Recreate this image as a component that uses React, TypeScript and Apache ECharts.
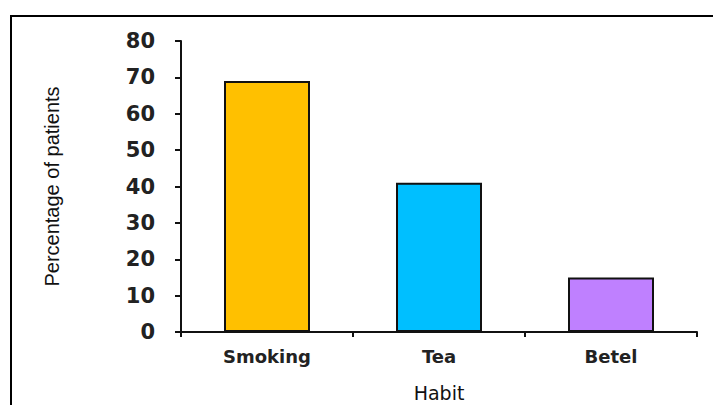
import React, { useEffect, useRef } from "react";
import * as echarts from "echarts";

const categories = ["Smoking", "Tea", "Betel"];
const values = [69, 41, 15];
const barColors = ["#FFC000", "#00BFFF", "#BF80FF"];
const yTicks = { min: 0, max: 80, interval: 10 };
const yTitle = "Percentage of patients";
const xTitle = "Habit";

export default function App() {
  const ref = useRef<HTMLDivElement>(null);
  useEffect(() => {
    if (!ref.current) return;
    const chart = echarts.init(ref.current, undefined, { renderer: "svg" });
    chart.setOption({
      animation: false,
      backgroundColor: "#ffffff",
      grid: { left: 181, right: 16, top: 41, bottom: 73, containLabel: false, outerBoundsMode: "none" },
      graphic: [
        {
          type: "rect",
          shape: { x: 11, y: 16, width: 740, height: 420 },
          style: { fill: "none", stroke: "#000", lineWidth: 2 },
          silent: true,
        },
      ],
      xAxis: {
        type: "category",
        data: categories,
        boundaryGap: true,
        name: xTitle,
        nameLocation: "middle",
        nameGap: 51,
        nameTextStyle: { fontFamily: "DejaVu Sans", fontSize: 19, color: "#111", lineHeight: 19 },
        axisLine: { lineStyle: { color: "#111", width: 2 } },
        axisTick: { show: true, length: 5, inside: false, lineStyle: { color: "#111", width: 2 } },
        axisLabel: { margin: 15, fontFamily: "DejaVu Sans", fontWeight: "bold", fontSize: 18, color: "#222" },
        splitLine: { show: false },
      },
      yAxis: {
        type: "value",
        min: yTicks.min,
        max: yTicks.max,
        interval: yTicks.interval,
        name: yTitle,
        nameLocation: "middle",
        nameRotate: 90,
        nameGap: 119,
        nameTextStyle: { fontFamily: "Liberation Sans", fontSize: 20, color: "#111" },
        axisLine: { show: true, lineStyle: { color: "#111", width: 2 } },
        axisTick: { show: true, length: 6, inside: false, lineStyle: { color: "#111", width: 2 } },
        axisLabel: { margin: 26, fontFamily: "DejaVu Sans", fontWeight: "bold", fontSize: 21, color: "#222" },
        splitLine: { show: false },
      },
      series: [
        {
          type: "bar",
          barWidth: "50%",
          data: values.map((v, i) => ({
            value: v,
            itemStyle: { color: barColors[i], borderColor: "#111", borderWidth: 2 },
          })),
        },
      ],
    });
    return () => chart.dispose();
  }, []);
  return <div ref={ref} style={{ width: 713, height: 405, position: "absolute", left: 0, top: 0 }} />;
}
